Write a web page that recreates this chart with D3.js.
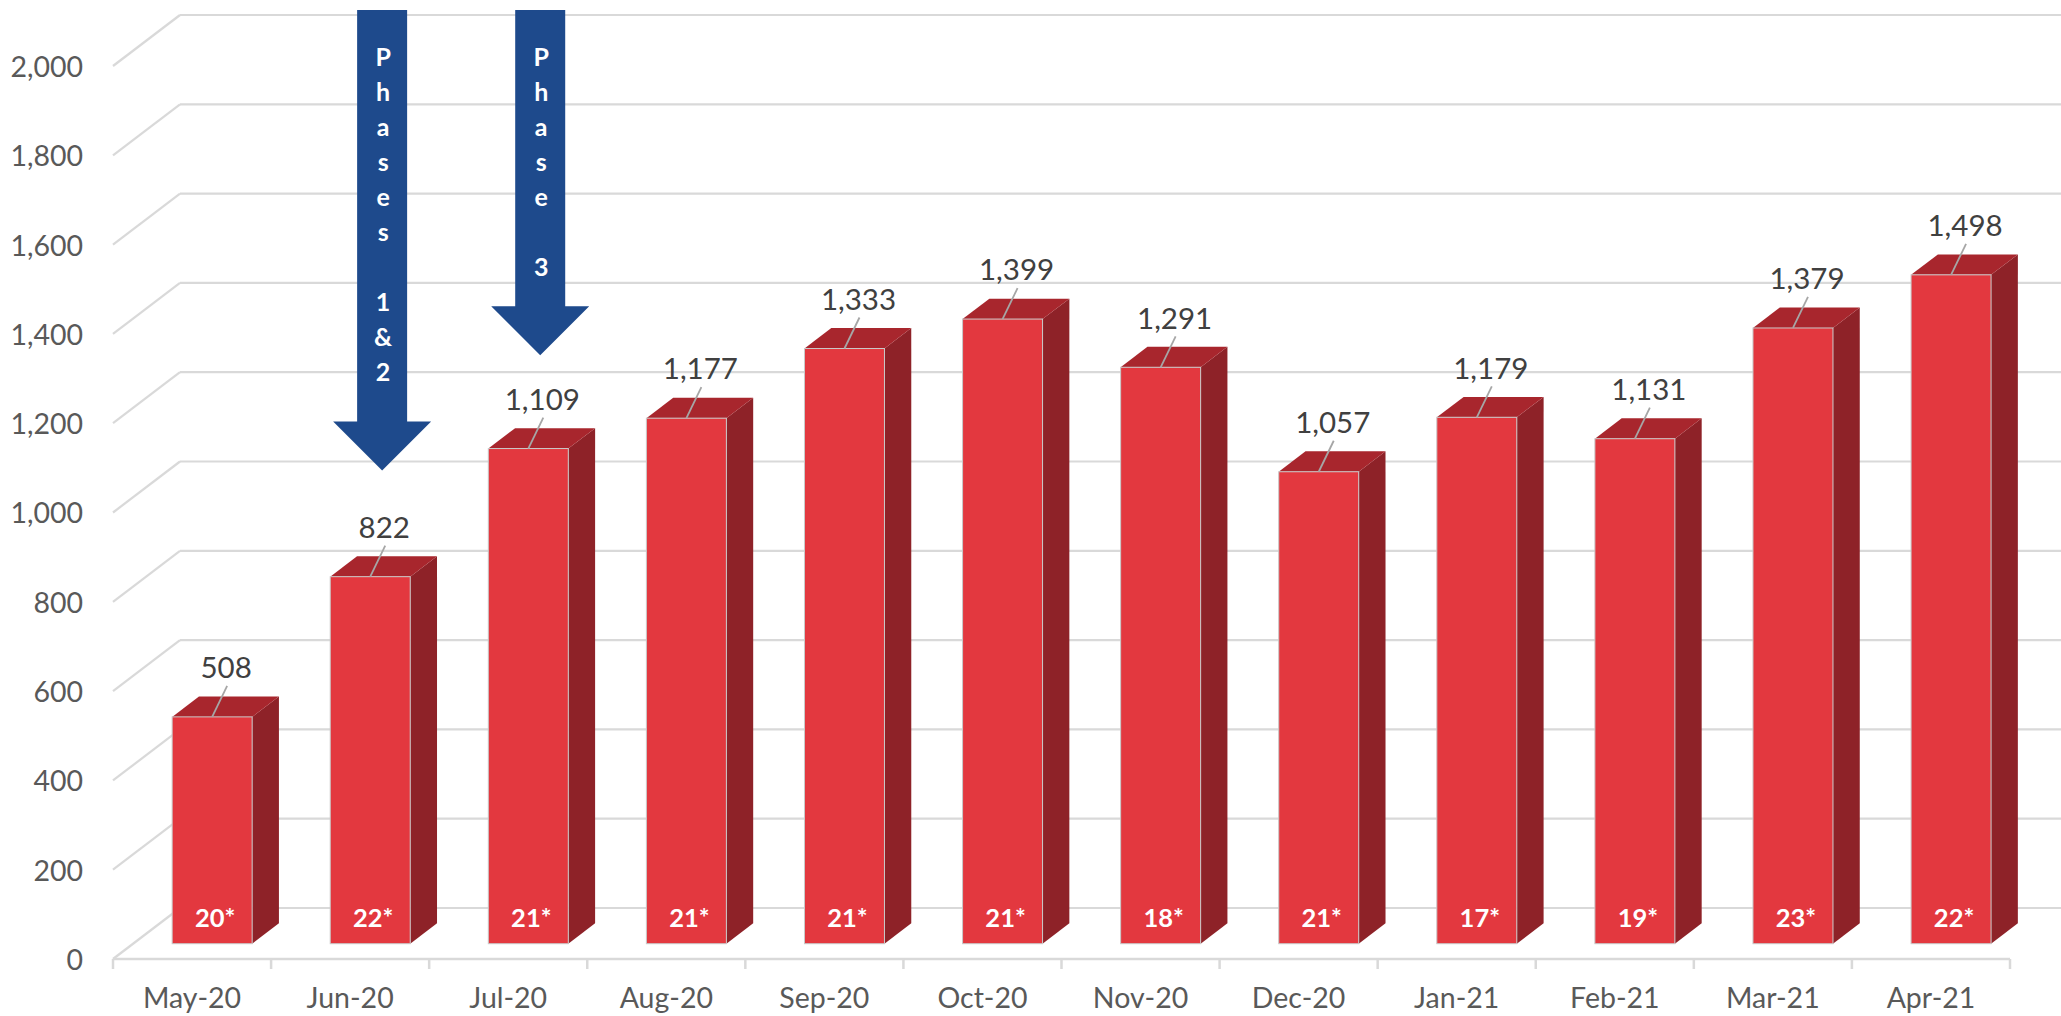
<!DOCTYPE html>
<html>
<head>
<meta charset="utf-8">
<script src="https://cdn.jsdelivr.net/npm/d3@7"></script>
<style>
  html, body { margin: 0; padding: 0; background: #ffffff; }
  svg { display: block; }
  text { font-family: Lato, "Open Sans", "DejaVu Sans", sans-serif; }
</style>
</head>
<body>
<svg id="chart" width="2061" height="1016"></svg>
<script>
// ---- data ----
const months = ["May-20","Jun-20","Jul-20","Aug-20","Sep-20","Oct-20","Nov-20","Dec-20","Jan-21","Feb-21","Mar-21","Apr-21"];
const values = [508, 822, 1109, 1177, 1333, 1399, 1291, 1057, 1179, 1131, 1379, 1498];
const workDays = [20, 22, 21, 21, 21, 21, 18, 21, 17, 19, 23, 22];
const yTicks = [0, 200, 400, 600, 800, 1000, 1200, 1400, 1600, 1800, 2000];
const arrowLabels = ["Phases 1&2", "Phase 3"];
const arrowMonths = ["Jun-20", "Jul-20"];
const arrowTipValues = [980, 1238];   // value level the arrow tips point to (back wall)

// ---- layout ----
const W = 2061, H = 1016;
const svg = d3.select("#chart");
svg.append("rect").attr("width", W).attr("height", H).attr("fill", "#fff");

const x = d3.scaleBand().domain(months).range([113, 2010]).paddingInner(0).paddingOuter(0);
const y = d3.scaleLinear().domain([0, 2000]).range([959, 66]);
const DX = 67, DY = -51;               // full depth offset of back wall
const off = f => [f * DX, f * DY];      // offset at depth fraction f
const fFront = 0.3, fBack = 0.7;        // bar depth placement
const barW = x.bandwidth() * 0.506;
const fmt = d3.format(",");

const gridColor = "#d9d9d9";
const grid = svg.append("g");

// back wall horizontal gridlines + side wall diagonals
yTicks.forEach(v => {
  const [bx, by] = off(1);
  grid.append("line")
    .attr("x1", x.range()[0] + bx).attr("x2", W + 20)
    .attr("y1", y(v) + by).attr("y2", y(v) + by)
    .attr("stroke", gridColor).attr("stroke-width", 2.2);
  grid.append("line")
    .attr("x1", x.range()[0]).attr("y1", y(v))
    .attr("x2", x.range()[0] + bx).attr("y2", y(v) + by)
    .attr("stroke", gridColor).attr("stroke-width", 2.2);
});
// floor front edge
grid.append("line")
  .attr("x1", x.range()[0]).attr("x2", x.range()[1])
  .attr("y1", y(0)).attr("y2", y(0))
  .attr("stroke", gridColor).attr("stroke-width", 2.5);
// tick marks at band boundaries
const bounds = months.map(m => x(m)).concat([x.range()[1]]);
grid.selectAll("line.tick").data(bounds).enter().append("line")
  .attr("class", "tick")
  .attr("x1", d => d).attr("x2", d => d)
  .attr("y1", y(0)).attr("y2", y(0) + 10)
  .attr("stroke", gridColor).attr("stroke-width", 2.5);

// y-axis labels
svg.append("g").selectAll("text").data(yTicks).enter().append("text")
  .attr("x", 83).attr("y", d => y(d) + 1).attr("dy", "0.35em")
  .attr("text-anchor", "end")
  .attr("font-size", 28.5).attr("fill", "#595959")
  .text(d => fmt(d));

// x-axis labels
svg.append("g").selectAll("text").data(months).enter().append("text")
  .attr("x", d => x(d) + x.bandwidth() / 2).attr("y", 998).attr("dy", "0.35em")
  .attr("text-anchor", "middle")
  .attr("font-size", 28.5).attr("fill", "#595959")
  .text(d => d);

// ---- bars ----
const bars = svg.append("g");
const [fx, fy] = off(fFront);
const [bkx, bky] = off(fBack);
const ddx = bkx - fx, ddy = bky - fy;
values.forEach((v, i) => {
  const m = months[i];
  const x0 = x(m) + fx + (x.bandwidth() - barW) / 2;
  const x1 = x0 + barW;
  const yb = y(0) + fy;
  const yt = y(v) + fy;
  const g = bars.append("g");
  g.append("path")
    .attr("d", `M${x1},${yt} L${x1 + ddx},${yt + ddy} L${x1 + ddx},${yb + ddy} L${x1},${yb} Z`)
    .attr("fill", "#8e2228");
  g.append("path")
    .attr("d", `M${x0},${yt} L${x0 + ddx},${yt + ddy} L${x1 + ddx},${yt + ddy} L${x1},${yt} Z`)
    .attr("fill", "#a8262d");
  g.append("rect")
    .attr("x", x0).attr("y", yt).attr("width", barW).attr("height", yb - yt)
    .attr("fill", "#e3383f").attr("stroke", "#c9c9c9").attr("stroke-width", 1);

  const cx = (x0 + x1) / 2;
  g.append("line")
    .attr("x1", cx + 15).attr("y1", yt - 31)
    .attr("x2", cx).attr("y2", yt)
    .attr("stroke", "#a6a6a6").attr("stroke-width", 1.8);
  g.append("text")
    .attr("x", cx + 14).attr("y", yt - 49).attr("dy", "0.35em")
    .attr("text-anchor", "middle").attr("font-size", 29.5).attr("fill", "#404040")
    .text(fmt(v));
  g.append("text")
    .attr("x", cx + 3).attr("y", 918).attr("dy", "0.35em")
    .attr("text-anchor", "middle").attr("font-size", 25.5).attr("font-weight", "bold")
    .attr("fill", "#ffffff")
    .text(workDays[i] + "*");
});

// ---- phase arrows ----
const arrowColor = "#1e4a8c";
arrowLabels.forEach((lab, k) => {
  const m = arrowMonths[k];
  const cx = x(m) + x.bandwidth() / 2 + 32;
  const tip = y(arrowTipValues[k]) + DY;
  const shaftHalf = 25, headHalf = 49, headLen = 49, top = 10;
  const base = tip - headLen;
  svg.append("path")
    .attr("d", `M${cx - shaftHalf},${top} L${cx + shaftHalf},${top} L${cx + shaftHalf},${base} L${cx + headHalf},${base} L${cx},${tip} L${cx - headHalf},${base} L${cx - shaftHalf},${base} Z`)
    .attr("fill", arrowColor);
  const t = svg.append("text")
    .attr("text-anchor", "middle").attr("font-size", 25).attr("font-weight", "bold")
    .attr("fill", "#ffffff");
  lab.split("").forEach((c, j) => {
    t.append("tspan").attr("x", cx + 1).attr("y", 57 + j * 35).attr("dy", "0.35em")
      .text(c === " " ? "\u00a0" : c);
  });
});
</script>
</body>
</html>
